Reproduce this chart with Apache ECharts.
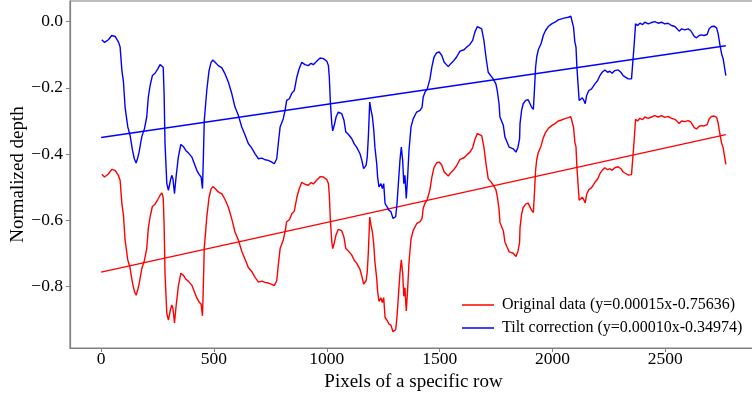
<!DOCTYPE html>
<html>
<head>
<meta charset="utf-8">
<script src="https://cdn.jsdelivr.net/npm/echarts@6/dist/echarts.min.js"></script>
<style>
html,body{margin:0;padding:0;background:#fff;}
#chart{width:752px;height:398px;}
</style>
</head>
<body>
<div id="chart"></div>
<script>
const xTicks = [0, 500, 1000, 1500, 2000, 2500];
const yTicks = [-0.8, -0.6, -0.4, -0.2, 0.0];
const legendNames = ['Original data (y=0.00015x-0.75636)', 'Tilt correction (y=0.00010x-0.34974)'];

const tiltData = [
[3,-0.055],[15,-0.063],[32,-0.055],[47,-0.042],[62,-0.045],[77,-0.062],[84,-0.077],[92,-0.148],[99,-0.183],[106,-0.258],
[118,-0.318],[128,-0.343],[139,-0.389],[147,-0.414],[155,-0.427],[163,-0.409],[168,-0.394],[176,-0.394],[180,-0.348],[192,-0.323],
[202,-0.288],[209,-0.228],[217,-0.193],[227,-0.163],[239,-0.156],[251,-0.143],[261,-0.130],[269,-0.124],[275,-0.138],[279,-0.218],
[283,-0.368],[291,-0.489],[298,-0.509],[307,-0.479],[313,-0.464],[318,-0.474],[325,-0.519],[332,-0.469],[342,-0.409],[353,-0.371],
[364,-0.377],[375,-0.389],[387,-0.397],[402,-0.409],[413,-0.429],[424,-0.449],[434,-0.461],[443,-0.469],[449,-0.504],[453,-0.409],
[457,-0.298],[468,-0.208],[478,-0.148],[487,-0.123],[495,-0.116],[505,-0.123],[519,-0.133],[535,-0.140],[549,-0.158],[564,-0.183],
[579,-0.218],[593,-0.258],[608,-0.283],[623,-0.318],[638,-0.343],[652,-0.368],[667,-0.381],[682,-0.399],[697,-0.414],[712,-0.412],
[726,-0.417],[741,-0.419],[756,-0.424],[767,-0.429],[778,-0.414],[785,-0.368],[793,-0.318],[807,-0.293],[815,-0.268],[822,-0.238],
[834,-0.233],[845,-0.216],[856,-0.208],[867,-0.168],[877,-0.143],[889,-0.123],[903,-0.130],[918,-0.133],[930,-0.126],[940,-0.130],
[955,-0.120],[970,-0.110],[985,-0.112],[1000,-0.120],[1007,-0.133],[1011,-0.168],[1016,-0.248],[1022,-0.308],[1026,-0.330],[1033,-0.313],
[1041,-0.288],[1051,-0.273],[1066,-0.278],[1076,-0.298],[1084,-0.333],[1095,-0.340],[1110,-0.353],[1122,-0.370],[1132,-0.379],[1147,-0.399],
[1155,-0.419],[1163,-0.444],[1174,-0.434],[1179,-0.409],[1184,-0.348],[1190,-0.243],[1196,-0.268],[1202,-0.288],[1208,-0.328],[1213,-0.379],
[1221,-0.429],[1225,-0.469],[1231,-0.499],[1240,-0.489],[1246,-0.504],[1252,-0.489],[1258,-0.549],[1267,-0.559],[1275,-0.569],[1284,-0.574],
[1293,-0.594],[1299,-0.599],[1305,-0.589],[1311,-0.549],[1317,-0.489],[1324,-0.419],[1330,-0.379],[1336,-0.419],[1341,-0.489],[1346,-0.464],
[1352,-0.534],[1358,-0.469],[1364,-0.389],[1373,-0.318],[1383,-0.293],[1398,-0.273],[1413,-0.268],[1422,-0.258],[1427,-0.228],[1435,-0.213],
[1445,-0.203],[1457,-0.173],[1465,-0.138],[1475,-0.107],[1487,-0.094],[1498,-0.092],[1509,-0.102],[1520,-0.123],[1538,-0.136],[1549,-0.127],
[1560,-0.120],[1575,-0.107],[1590,-0.089],[1608,-0.085],[1620,-0.077],[1634,-0.069],[1646,-0.057],[1656,-0.032],[1667,-0.015],[1675,-0.009],
[1686,-0.022],[1696,-0.057],[1705,-0.107],[1715,-0.153],[1726,-0.163],[1737,-0.173],[1749,-0.188],[1755,-0.208],[1763,-0.248],[1767,-0.288],
[1775,-0.293],[1782,-0.313],[1789,-0.348],[1799,-0.364],[1808,-0.379],[1816,-0.373],[1826,-0.384],[1838,-0.394],[1847,-0.379],[1854,-0.353],
[1856,-0.308],[1863,-0.268],[1870,-0.248],[1881,-0.238],[1892,-0.236],[1900,-0.238],[1907,-0.258],[1915,-0.265],[1919,-0.218],[1925,-0.138],
[1930,-0.107],[1937,-0.085],[1949,-0.067],[1959,-0.042],[1969,-0.027],[1981,-0.015],[1996,-0.007],[2011,-0.002],[2025,0.005],[2040,0.008],
[2055,0.011],[2070,0.013],[2081,0.016],[2089,0.013],[2093,-0.017],[2099,-0.062],[2104,-0.077],[2108,-0.138],[2114,-0.198],[2118,-0.238],
[2124,-0.233],[2132,-0.230],[2139,-0.238],[2145,-0.248],[2151,-0.223],[2161,-0.208],[2173,-0.203],[2188,-0.188],[2200,-0.178],[2210,-0.163],
[2220,-0.153],[2232,-0.146],[2244,-0.153],[2254,-0.150],[2264,-0.156],[2276,-0.148],[2291,-0.146],[2303,-0.153],[2313,-0.163],[2321,-0.168],
[2335,-0.173],[2350,-0.173],[2357,-0.168],[2362,-0.067],[2368,-0.007],[2377,-0.012],[2387,-0.005],[2399,-0.009],[2409,-0.002],[2424,-0.007],
[2439,-0.003],[2453,0.000],[2468,-0.005],[2483,-0.002],[2497,-0.007],[2512,-0.005],[2527,-0.012],[2542,-0.015],[2552,-0.022],[2561,-0.029],
[2572,-0.022],[2586,-0.025],[2601,-0.022],[2612,-0.027],[2620,-0.027],[2628,-0.045],[2638,-0.049],[2650,-0.042],[2660,-0.040],[2671,-0.042],
[2679,-0.037],[2685,-0.039],[2694,-0.022],[2705,-0.015],[2716,-0.014],[2727,-0.019],[2734,-0.037],[2741,-0.067],[2749,-0.097],[2756,-0.112],
[2764,-0.118],[2768,-0.163]
];

const originalData = [
[3,-0.461],[15,-0.469],[32,-0.460],[47,-0.446],[62,-0.449],[77,-0.465],[84,-0.479],[92,-0.550],[99,-0.585],[106,-0.659],
[118,-0.719],[128,-0.743],[139,-0.789],[147,-0.813],[155,-0.826],[163,-0.807],[168,-0.792],[176,-0.792],[180,-0.746],[192,-0.720],
[202,-0.685],[209,-0.624],[217,-0.589],[227,-0.558],[239,-0.551],[251,-0.537],[261,-0.524],[269,-0.517],[275,-0.531],[279,-0.611],
[283,-0.760],[291,-0.881],[298,-0.901],[307,-0.870],[313,-0.855],[318,-0.865],[325,-0.909],[332,-0.859],[342,-0.799],[353,-0.760],
[364,-0.765],[375,-0.777],[387,-0.784],[402,-0.796],[413,-0.815],[424,-0.834],[434,-0.846],[443,-0.853],[449,-0.888],[453,-0.793],
[457,-0.682],[468,-0.591],[478,-0.531],[487,-0.505],[495,-0.498],[505,-0.504],[519,-0.514],[535,-0.520],[549,-0.537],[564,-0.561],
[579,-0.596],[593,-0.635],[608,-0.659],[623,-0.693],[638,-0.718],[652,-0.742],[667,-0.754],[682,-0.772],[697,-0.786],[712,-0.783],
[726,-0.787],[741,-0.789],[756,-0.793],[767,-0.797],[778,-0.782],[785,-0.735],[793,-0.685],[807,-0.659],[815,-0.634],[822,-0.604],
[834,-0.598],[845,-0.580],[856,-0.572],[867,-0.531],[877,-0.506],[889,-0.485],[903,-0.491],[918,-0.494],[930,-0.486],[940,-0.490],
[955,-0.479],[970,-0.468],[985,-0.469],[1000,-0.477],[1007,-0.489],[1011,-0.524],[1016,-0.604],[1022,-0.664],[1026,-0.685],[1033,-0.668],
[1041,-0.643],[1051,-0.627],[1066,-0.631],[1076,-0.651],[1084,-0.685],[1095,-0.692],[1110,-0.704],[1122,-0.721],[1132,-0.729],[1147,-0.748],
[1155,-0.768],[1163,-0.792],[1174,-0.782],[1179,-0.757],[1184,-0.695],[1190,-0.590],[1196,-0.615],[1202,-0.635],[1208,-0.674],[1213,-0.725],
[1221,-0.775],[1225,-0.814],[1231,-0.844],[1240,-0.834],[1246,-0.848],[1252,-0.833],[1258,-0.893],[1267,-0.902],[1275,-0.912],[1284,-0.916],
[1293,-0.936],[1299,-0.941],[1305,-0.930],[1311,-0.890],[1317,-0.830],[1324,-0.759],[1330,-0.719],[1336,-0.759],[1341,-0.829],[1346,-0.803],
[1352,-0.873],[1358,-0.808],[1364,-0.727],[1373,-0.656],[1383,-0.630],[1398,-0.610],[1413,-0.604],[1422,-0.594],[1427,-0.563],[1435,-0.548],
[1445,-0.537],[1457,-0.507],[1465,-0.471],[1475,-0.440],[1487,-0.426],[1498,-0.424],[1509,-0.433],[1520,-0.454],[1538,-0.466],[1549,-0.456],
[1560,-0.449],[1575,-0.435],[1590,-0.416],[1608,-0.411],[1620,-0.403],[1634,-0.394],[1646,-0.381],[1656,-0.356],[1667,-0.338],[1675,-0.332],
[1686,-0.344],[1696,-0.379],[1705,-0.428],[1715,-0.474],[1726,-0.483],[1737,-0.493],[1749,-0.507],[1755,-0.527],[1763,-0.566],[1767,-0.606],
[1775,-0.611],[1782,-0.631],[1789,-0.665],[1799,-0.681],[1808,-0.695],[1816,-0.689],[1826,-0.699],[1838,-0.709],[1847,-0.693],[1854,-0.667],
[1856,-0.622],[1863,-0.581],[1870,-0.561],[1881,-0.551],[1892,-0.548],[1900,-0.550],[1907,-0.569],[1915,-0.576],[1919,-0.529],[1925,-0.448],
[1930,-0.417],[1937,-0.395],[1949,-0.376],[1959,-0.351],[1969,-0.335],[1981,-0.323],[1996,-0.314],[2011,-0.308],[2025,-0.300],[2040,-0.297],
[2055,-0.293],[2070,-0.290],[2081,-0.287],[2089,-0.289],[2093,-0.319],[2099,-0.364],[2104,-0.378],[2108,-0.439],[2114,-0.499],[2118,-0.539],
[2124,-0.533],[2132,-0.530],[2139,-0.538],[2145,-0.547],[2151,-0.522],[2161,-0.507],[2173,-0.501],[2188,-0.485],[2200,-0.475],[2210,-0.459],
[2220,-0.449],[2232,-0.441],[2244,-0.447],[2254,-0.444],[2264,-0.449],[2276,-0.441],[2291,-0.438],[2303,-0.444],[2313,-0.454],[2321,-0.459],
[2335,-0.463],[2350,-0.462],[2357,-0.457],[2362,-0.356],[2368,-0.295],[2377,-0.300],[2387,-0.292],[2399,-0.296],[2409,-0.288],[2424,-0.292],
[2439,-0.288],[2453,-0.284],[2468,-0.288],[2483,-0.284],[2497,-0.289],[2512,-0.286],[2527,-0.292],[2542,-0.295],[2552,-0.301],[2561,-0.308],
[2572,-0.300],[2586,-0.302],[2601,-0.299],[2612,-0.303],[2620,-0.303],[2628,-0.320],[2638,-0.324],[2650,-0.316],[2660,-0.314],[2671,-0.315],
[2679,-0.310],[2685,-0.311],[2694,-0.294],[2705,-0.286],[2716,-0.285],[2727,-0.289],[2734,-0.307],[2741,-0.337],[2749,-0.366],[2756,-0.381],
[2764,-0.386],[2768,-0.431]
];

const fitX = [0, 2768];
const originalFitY = [-0.756, -0.341];
const tiltFitY = [-0.350, -0.073];

const FONT = 'Liberation Serif';
const fmtY = v => {
  const s = Math.abs(v).toFixed(1);
  return v < -1e-9 ? '\u2212' + s : s;
};

const chart = echarts.init(document.getElementById('chart'), null, {renderer: 'canvas'});
chart.setOption({
  animation: false,
  backgroundColor: '#ffffff',
  grid: {
    left: 70, top: 1, width: 687, height: 347,
    outerBoundsMode: 'none', containLabel: false,
    show: true, borderColor: '#808080', borderWidth: 1.2, backgroundColor: 'transparent'
  },
  legend: {
    data: legendNames.map(n => ({name: n, icon: 'rect'})),
    orient: 'vertical',
    left: 457, top: 292,
    itemWidth: 32, itemHeight: 1.5, itemGap: 7,
    textStyle: {fontFamily: FONT, fontSize: 16, color: '#000', padding: [0, 0, 0, 3]}
  },
  xAxis: {
    type: 'value', min: -138, max: 2906,
    axisLine: {show: true, onZero: false, lineStyle: {color: '#808080', width: 1.2}},
    axisTick: {show: true, customValues: xTicks, length: 4, lineStyle: {color: '#808080'}},
    axisLabel: {customValues: xTicks, formatter: v => String(v), fontFamily: FONT, fontSize: 17.5, color: '#000', margin: 2},
    splitLine: {show: false},
    name: 'Pixels of a specific row', nameLocation: 'middle', nameGap: 21,
    nameTextStyle: {fontFamily: FONT, fontSize: 19, color: '#000'}
  },
  yAxis: {
    type: 'value', min: -0.985, max: 0.062,
    axisLine: {show: true, onZero: false, lineStyle: {color: '#808080', width: 1.2}},
    axisTick: {show: true, customValues: yTicks, length: 4, lineStyle: {color: '#808080'}},
    axisLabel: {customValues: yTicks, formatter: fmtY, fontFamily: FONT, fontSize: 17.5, color: '#000', margin: 7},
    splitLine: {show: false},
    name: 'Normalized depth', nameLocation: 'middle', nameGap: 42, nameMoveOverlap: false,
    nameTextStyle: {fontFamily: FONT, fontSize: 19, color: '#000'}
  },
  series: [
    {name: legendNames[0], type: 'line', data: originalData, symbol: 'none', lineStyle: {color: '#ff0000', width: 1.4}, itemStyle: {color: '#ff0000'}},
    {name: 'fitRed', type: 'line', data: fitX.map((x, i) => [x, originalFitY[i]]), symbol: 'none', lineStyle: {color: '#ff0000', width: 1.4}},
    {name: legendNames[1], type: 'line', data: tiltData, symbol: 'none', lineStyle: {color: '#0000ff', width: 1.4}, itemStyle: {color: '#0000ff'}},
    {name: 'fitBlue', type: 'line', data: fitX.map((x, i) => [x, tiltFitY[i]]), symbol: 'none', lineStyle: {color: '#0000ff', width: 1.4}}
  ]
});
</script>
</body>
</html>
